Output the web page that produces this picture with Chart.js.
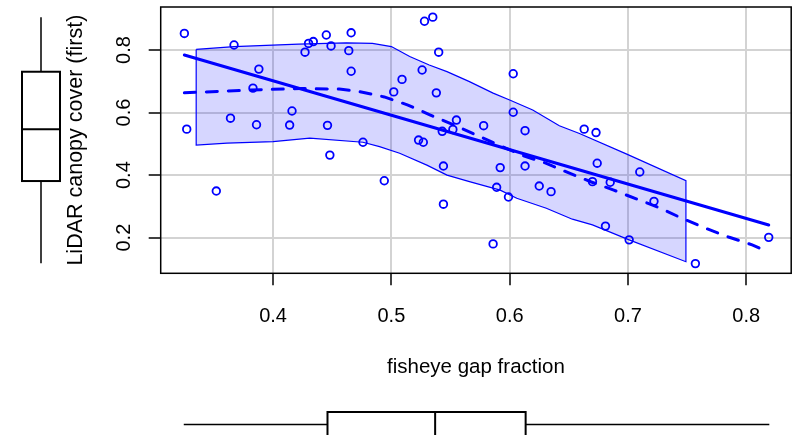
<!DOCTYPE html>
<html>
<head>
<meta charset="utf-8">
<script src="https://cdn.jsdelivr.net/npm/chart.js@4.4.1/dist/chart.umd.min.js"></script>
<style>
  html, body { margin: 0; padding: 0; background: #fff; }
  #wrap { width: 797px; height: 435px; }
</style>
</head>
<body>
<div id="wrap"><canvas id="gapChart" width="797" height="435"></canvas></div>
<script>
// sample plots: fisheye gap fraction against LiDAR canopy cover
const gapFraction = [0.325, 0.327, 0.352, 0.364, 0.367, 0.383, 0.388, 0.386, 0.414, 0.416,
  0.427, 0.430, 0.434, 0.445, 0.449, 0.446, 0.448, 0.464, 0.466, 0.466,
  0.476, 0.494, 0.502, 0.509, 0.523, 0.527, 0.526, 0.528, 0.535, 0.540,
  0.538, 0.543, 0.552, 0.555, 0.544, 0.544, 0.578, 0.586, 0.589, 0.592,
  0.599, 0.603, 0.603, 0.613, 0.613, 0.625, 0.635, 0.663, 0.673, 0.674,
  0.670, 0.685, 0.681, 0.701, 0.710, 0.722, 0.757, 0.819];
const canopyCover = [0.853, 0.547, 0.349, 0.582, 0.816, 0.678, 0.739, 0.561, 0.560, 0.605,
  0.793, 0.821, 0.827, 0.848, 0.813, 0.559, 0.464, 0.798, 0.855, 0.732,
  0.505, 0.382, 0.666, 0.706, 0.512, 0.505, 0.736, 0.892, 0.905, 0.793,
  0.663, 0.540, 0.546, 0.576, 0.429, 0.307, 0.558, 0.180, 0.361, 0.424,
  0.330, 0.724, 0.601, 0.542, 0.429, 0.365, 0.347, 0.547, 0.536, 0.438,
  0.379, 0.377, 0.237, 0.193, 0.410, 0.316, 0.117, 0.201];

// linear fit
const fitX = [0.325, 0.819];
const fitY = [0.784, 0.2405];

// smoother (dashed)
const smoothX = [0.325, 0.380, 0.423, 0.456, 0.473, 0.494, 0.514, 0.533, 0.553, 0.572, 0.591, 0.610,
  0.630, 0.648, 0.669, 0.688, 0.707, 0.727, 0.745, 0.765, 0.785, 0.805, 0.819];
const smoothY = [0.663, 0.672, 0.677, 0.675, 0.667, 0.650, 0.624, 0.592, 0.560, 0.528, 0.496, 0.464,
  0.439, 0.410, 0.378, 0.352, 0.324, 0.295, 0.263, 0.231, 0.202, 0.177, 0.154];

// spread band
const bandUpperX = [0.335, 0.367, 0.4215, 0.462, 0.484, 0.500, 0.5155, 0.532, 0.547, 0.566, 0.586,
  0.600, 0.6195, 0.642, 0.659, 0.699, 0.749];
const bandUpperY = [0.802, 0.811, 0.819, 0.823, 0.821, 0.811, 0.779, 0.752, 0.731, 0.699, 0.662,
  0.640, 0.608, 0.558, 0.533, 0.467, 0.382];
const bandLowerX = [0.335, 0.361, 0.400, 0.431, 0.476, 0.490, 0.507, 0.530, 0.547, 0.566, 0.592,
  0.606, 0.631, 0.653, 0.670, 0.701, 0.749];
const bandLowerY = [0.496, 0.502, 0.507, 0.518, 0.505, 0.491, 0.470, 0.432, 0.400, 0.379, 0.352,
  0.326, 0.294, 0.259, 0.241, 0.193, 0.123];

// marginal boxplots: min, q1, median, q3, max
const gapBox = [0.3245, 0.446, 0.537, 0.6135, 0.8195];
const coverBox = [0.118, 0.381, 0.5465, 0.7305, 0.9045];

const xTicks = [0.4, 0.5, 0.6, 0.7, 0.8];
const yTicks = [0.2, 0.4, 0.6, 0.8];

const blue = '#0000ff';
const fontFamily = "'Liberation Sans', Arial, Helvetica, sans-serif";

const points = gapFraction.map((x, i) => ({x: x, y: canopyCover[i]}));
const fitLine = fitX.map((x, i) => ({x: x, y: fitY[i]}));
const smoothLine = smoothX.map((x, i) => ({x: x, y: smoothY[i]}));
const band = bandUpperX.map((x, i) => ({x: x, y: bandUpperY[i]}))
  .concat(bandLowerX.map((x, i) => ({x: x, y: bandLowerY[i]})).reverse());
band.push(band[0]);

const marginBoxes = {
  id: 'marginBoxes',
  afterDraw(chart) {
    const ctx = chart.ctx;
    const a = chart.chartArea;
    const xs = chart.scales.x;
    const ys = chart.scales.y;
    ctx.save();
    ctx.strokeStyle = '#000';
    ctx.lineWidth = 1.5;
    ctx.strokeRect(a.left, a.top, a.right - a.left, a.bottom - a.top);

    // boxplot of cover, left margin
    const yp = coverBox.map(v => ys.getPixelForValue(v));
    const cx = 41;
    ctx.beginPath();
    ctx.moveTo(cx, yp[0]); ctx.lineTo(cx, yp[1]);
    ctx.moveTo(cx, yp[3]); ctx.lineTo(cx, yp[4]);
    ctx.stroke();
    ctx.lineWidth = 2;
    ctx.strokeRect(22, yp[3], 38, yp[1] - yp[3]);
    ctx.beginPath();
    ctx.moveTo(22, yp[2]); ctx.lineTo(60, yp[2]);
    ctx.stroke();

    // boxplot of gap fraction, bottom margin
    const xp = gapBox.map(v => xs.getPixelForValue(v));
    const cy = 424.5;
    ctx.lineWidth = 1.5;
    ctx.beginPath();
    ctx.moveTo(xp[0], cy); ctx.lineTo(xp[1], cy);
    ctx.moveTo(xp[3], cy); ctx.lineTo(xp[4], cy);
    ctx.stroke();
    ctx.lineWidth = 2;
    ctx.strokeRect(xp[1], 412, xp[3] - xp[1], 40);
    ctx.beginPath();
    ctx.moveTo(xp[2], 412); ctx.lineTo(xp[2], 440);
    ctx.stroke();
    ctx.restore();
  }
};

new Chart(document.getElementById('gapChart'), {
  type: 'scatter',
  data: {
    datasets: [
      {
        data: points,
        showLine: false,
        pointRadius: 3.8,
        pointBorderWidth: 1.8,
        pointBorderColor: blue,
        pointBackgroundColor: 'rgba(0,0,0,0)'
      },
      {
        data: fitLine,
        showLine: true,
        pointRadius: 0,
        borderColor: blue,
        borderWidth: 3,
        borderCapStyle: 'round'
      },
      {
        data: smoothLine,
        showLine: true,
        pointRadius: 0,
        borderColor: blue,
        borderWidth: 3,
        borderDash: [11, 11],
        borderCapStyle: 'round'
      },
      {
        data: band,
        showLine: true,
        pointRadius: 0,
        borderColor: blue,
        borderWidth: 1.2,
        backgroundColor: 'rgba(0,0,255,0.16)',
        fill: 'shape'
      }
    ]
  },
  options: {
    responsive: false,
    animation: false,
    events: [],
    layout: { padding: { left: 0, right: 5.3, top: 7, bottom: 0 } },
    plugins: {
      legend: { display: false },
      tooltip: { enabled: false }
    },
    scales: {
      x: {
        type: 'linear',
        min: 0.305,
        max: 0.838,
        afterBuildTicks: s => { s.ticks = xTicks.map(v => ({value: v})); },
        afterFit: s => {
          s.height = 161.7;
          s.paddingLeft = 0; s.paddingRight = 0;
        },
        border: { display: false },
        grid: { color: '#d3d3d3', lineWidth: 2, tickColor: '#000', tickWidth: 1.5, tickLength: 12 },
        ticks: {
          autoSkip: false,
          maxRotation: 0,
          padding: 19,
          color: '#000',
          font: { family: fontFamily, size: 20 },
          callback: v => v.toFixed(1)
        },
        title: {
          display: true,
          text: 'fisheye gap fraction',
          color: '#000',
          font: { family: fontFamily, size: 20.5 },
          padding: { top: 0, bottom: 55 }
        }
      },
      y: {
        type: 'linear',
        min: 0.086,
        max: 0.9375,
        afterBuildTicks: s => { s.ticks = yTicks.map(v => ({value: v})); },
        afterFit: s => {
          s.width = 160.7;
          s.paddingTop = 0; s.paddingBottom = 0;
        },
        border: { display: false },
        grid: { color: '#d3d3d3', lineWidth: 2, tickColor: '#000', tickWidth: 1.5, tickLength: 12 },
        ticks: {
          autoSkip: false,
          minRotation: 90,
          maxRotation: 90,
          crossAlign: 'center',
          padding: 10,
          color: '#000',
          font: { family: fontFamily, size: 20 },
          callback: v => v.toFixed(1)
        },
        title: {
          display: true,
          text: 'LiDAR canopy cover (first)',
          color: '#000',
          font: { family: fontFamily, size: 21.5 },
          padding: { top: 63, bottom: 0 }
        }
      }
    }
  },
  plugins: [marginBoxes]
});
</script>
</body>
</html>
